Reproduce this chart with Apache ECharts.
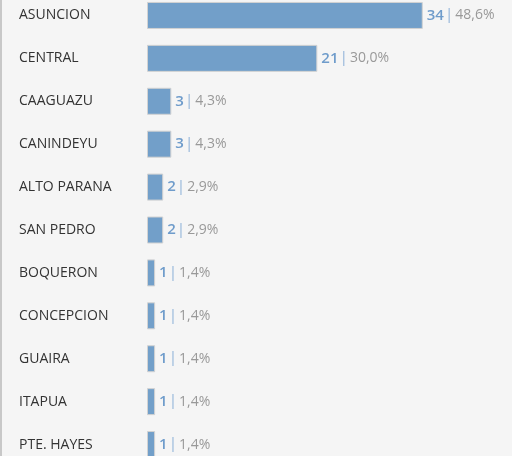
<!DOCTYPE html>
<html><head><meta charset="utf-8">
<script src="https://cdn.jsdelivr.net/npm/echarts@6/dist/echarts.min.js"></script>
<style>html,body{margin:0;padding:0;background:#f5f5f5;overflow:hidden;width:512px;height:456px;}
#c{position:absolute;left:0;top:-6.5px;width:512px;height:472px;border-left:2px solid #c8c8c8;box-sizing:border-box;}</style>
</head><body><div id="c"></div>
<script>
const categories = ["ASUNCION","CENTRAL","CAAGUAZU","CANINDEYU","ALTO PARANA","SAN PEDRO","BOQUERON","CONCEPCION","GUAIRA","ITAPUA","PTE. HAYES"];
const counts = [34,21,3,3,2,2,1,1,1,1,1];
const percents = ["48,6%","30,0%","4,3%","4,3%","2,9%","2,9%","1,4%","1,4%","1,4%","1,4%","1,4%"];
const chart = echarts.init(document.getElementById('c'));
chart.setOption({
  backgroundColor:'#f5f5f5',
  animation:false,
  grid:{left:145,right:0,top:0,bottom:0,containLabel:false},
  xAxis:{type:'value',min:0,max:45,show:false},
  yAxis:{type:'category',data:categories,inverse:true,
    axisLine:{show:false},axisTick:{show:false},splitLine:{show:false},
    axisLabel:{align:'left',margin:128,color:'#333',fontSize:14,fontFamily:'Open Sans'}},
  series:[{type:'bar',data:counts,barWidth:27,
    itemStyle:{color:'#729fc9',borderColor:'#d2d2d2',borderWidth:1},
    label:{show:true,position:'right',distance:4,
      formatter:p=>'{v|'+p.value+'}{s||}{p|'+percents[p.dataIndex]+'}',
      rich:{v:{color:'#6f9ccb',fontSize:15,fontFamily:'Open Sans',fontWeight:600},
            s:{color:'#aac4e0',fontSize:17,padding:[0,4,0,3]},
            p:{color:'#999',fontSize:14,fontFamily:'Open Sans'}}}
  }]
});
</script></body></html>
